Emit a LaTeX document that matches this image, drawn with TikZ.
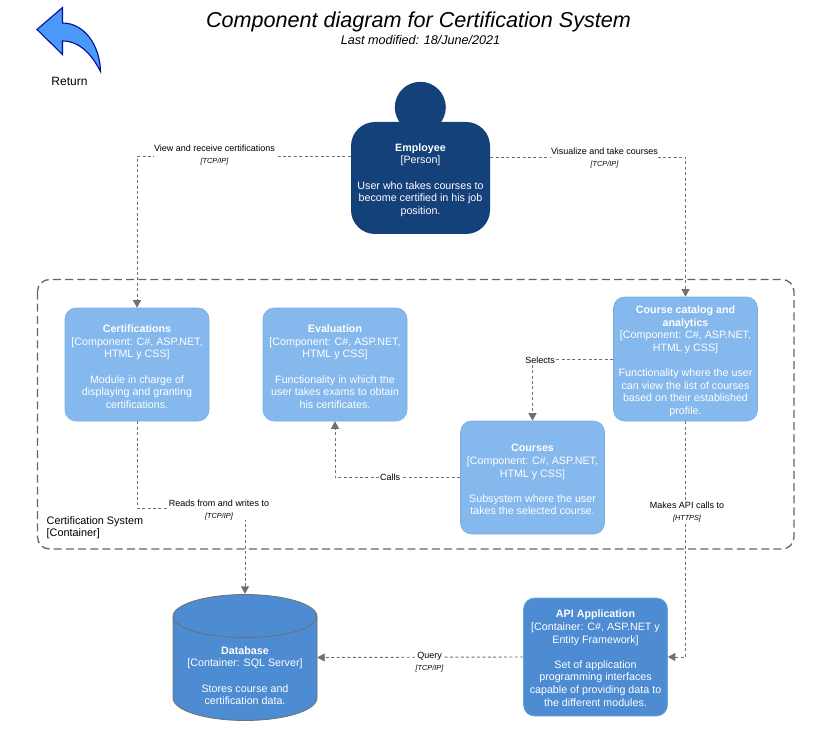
\documentclass[tikz,border=0pt]{standalone}
\usepackage{fontspec}
\setmainfont{Liberation Sans}
\usetikzlibrary{arrows.meta,calc}
\definecolor{persona}{HTML}{15417A}
\definecolor{compo}{HTML}{85B8EC}
\definecolor{compoline}{HTML}{7AAEE3}
\definecolor{contain}{HTML}{4D8BD2}
\definecolor{containline}{HTML}{6FA3DC}
\definecolor{linkgray}{HTML}{707070}
\definecolor{retfill}{HTML}{4A98F7}
\definecolor{retline}{HTML}{000F99}
\newcommand{\lbl}[2]{{\fontsize{9pt}{12.6pt}\selectfont #1}\\{\fontsize{7.3pt}{8.6pt}\selectfont\itshape #2}}
\newcommand{\dn}[1]{\rule{0pt}{#1}}
\tikzset{
  base/.style={font=\fontsize{10.7pt}{12.6pt}\selectfont,text=white,align=center,inner sep=0pt},
  personbox/.style={base,fill=persona,rounded corners=24pt,minimum width=139pt,minimum height=112pt},
  compbox/.style={base,fill=compo,draw=compoline,line width=.6pt,rounded corners=11pt,minimum width=144pt},
  contbox/.style={base,fill=contain,draw=containline,line width=.6pt,rounded corners=11pt,minimum width=144pt},
  link/.style={draw=linkgray,line width=.9pt,dash pattern=on 3pt off 2.4pt,-{Triangle[width=8pt,length=7.5pt,fill=linkgray]}},
  lab/.style={align=center,text=black,fill=white,inner sep=0.5pt},
  sys/.style={draw=linkgray!90!black,line width=1.3pt,dash pattern=on 8pt off 4.2pt,rounded corners=12pt},
  dbline/.style={draw=linkgray,line width=.8pt},
}
\begin{document}
\begin{tikzpicture}[x=1pt,y=-1pt]
\useasboundingbox (0,0) rectangle (829,735);
% system boundary
\draw[sys] (37.5,279.5) rectangle (794,549);
\node[font=\fontsize{10.85pt}{12.2pt}\selectfont,align=left,anchor=north west,inner sep=0pt] (syslabel) at (46.5,516) {Certification System\\{[Container]}};
% title
\node[font=\fontsize{21.6pt}{24pt}\selectfont\itshape,inner sep=0pt] (title) at (418.5,21.5) {Component diagram for Certification System};
\node[font=\fontsize{12.6pt}{14pt}\selectfont\itshape,inner sep=0pt] (subtitle) at (420.5,40.5) {Last modified: 18/June/2021};
% return icon
\draw[fill=retfill,draw=retline,line width=1.1pt,line join=miter]
  (37,29.5) -- (62.5,7.5) -- (62.5,23) .. controls (84,23) and (100,45) .. (100.5,71.5)
  .. controls (92,55) and (80,41) .. (62.5,41) -- (62.5,54.5) -- cycle;
\node[font=\fontsize{12pt}{14pt}\selectfont,inner sep=0pt] (ret) at (69.5,81.5) {Return};
% person
\node[circle,fill=persona,minimum size=51pt,inner sep=0pt] (head) at (420.3,107.3) {};
\node[personbox] (emp) at (420.5,178) {\dn{12pt}\textbf{Employee}\\{[Person]}\\[12.6pt]User who takes courses to\\become certified in his job\\position.};
% components
\node[compbox,minimum height=113pt] (cert) at (137,364.5) {\dn{12pt}\textbf{Certifications}\\{[Component: C\#, ASP.NET,}\\HTML y CSS]\\[12.6pt]Module in charge of\\displaying and granting\\certifications.};
\node[compbox,minimum height=113pt] (eval) at (335,364.5) {\dn{12pt}\textbf{Evaluation}\\{[Component: C\#, ASP.NET,}\\HTML y CSS]\\[12.6pt]Functionality in which the\\user takes exams to obtain\\his certificates.};
\node[compbox,minimum height=124pt] (cata) at (685.5,359) {\dn{12pt}\textbf{Course catalog and}\\\textbf{analytics}\\{[Component: C\#, ASP.NET,}\\HTML y CSS]\\[12.6pt]Functionality where the user\\can view the list of courses\\based on their established\\profile.};
\node[compbox,minimum height=113pt] (cour) at (532.5,477.5) {\dn{12pt}\textbf{Courses}\\{[Component: C\#, ASP.NET,}\\HTML y CSS]\\[12.6pt]Subsystem where the user\\takes the selected course.};
% api
\node[contbox,minimum height=118pt] (api) at (595.5,657) {\dn{10pt}\textbf{API Application}\\{[Container: C\#, ASP.NET y}\\Entity Framework]\\[12.6pt]Set of application\\programming interfaces\\capable of providing data to\\the different modules.};
% database
\draw[fill=contain,dbline] (173,616.5) arc[start angle=180,end angle=0,x radius=72,y radius=-22] -- (317,698) arc[start angle=0,end angle=-180,x radius=72,y radius=-22.5] -- cycle;
\draw[dbline] (173,616.5) arc[start angle=180,end angle=360,x radius=72,y radius=-21];
\node[base,minimum width=144pt,minimum height=127pt] (db) at (245,657.5) {\dn{44pt}\textbf{Database}\\{[Container: SQL Server]}\\[12.6pt]Stores course and\\certification data.};
% connectors
\coordinate (w1) at (137,508);
\coordinate (w2) at (245,508);
\draw[link] ($(emp.west)+(0,-21.5)$) -| (cert.north);
\draw[link] ($(emp.east)+(0,-21)$) -| (cata.north);
\draw[link] (cert.south) -- (w1) -- (w2) -- (db.north);
\draw[link] (cata.west) -| (cour.north);
\draw[link] (cour.west) -| (eval.south);
\draw[link] (cata.south) |- (api.east);
\draw[link] (api.west) -- (db.east);
% connector labels
\node[lab] (l1) at (214.5,155) {\lbl{View and receive certifications}{[TCP/IP]}};
\node[lab] (l2) at (604.5,157.5) {\lbl{Visualize and take courses}{[TCP/IP]}};
\node[lab] (l3) at (219,509.5) {\lbl{Reads from and writes to}{[TCP/IP]}};
\node[lab,font=\fontsize{9pt}{11pt}\selectfont] (l4) at (540,360) {Selects};
\node[lab,font=\fontsize{9pt}{11pt}\selectfont] (l5) at (390,477.5) {Calls};
\node[lab] (l6) at (687,511.5) {\lbl{Makes API calls to}{[HTTPS]}};
\node[lab] (l7) at (429.5,662) {\lbl{Query}{[TCP/IP]}};
\end{tikzpicture}
\end{document}
